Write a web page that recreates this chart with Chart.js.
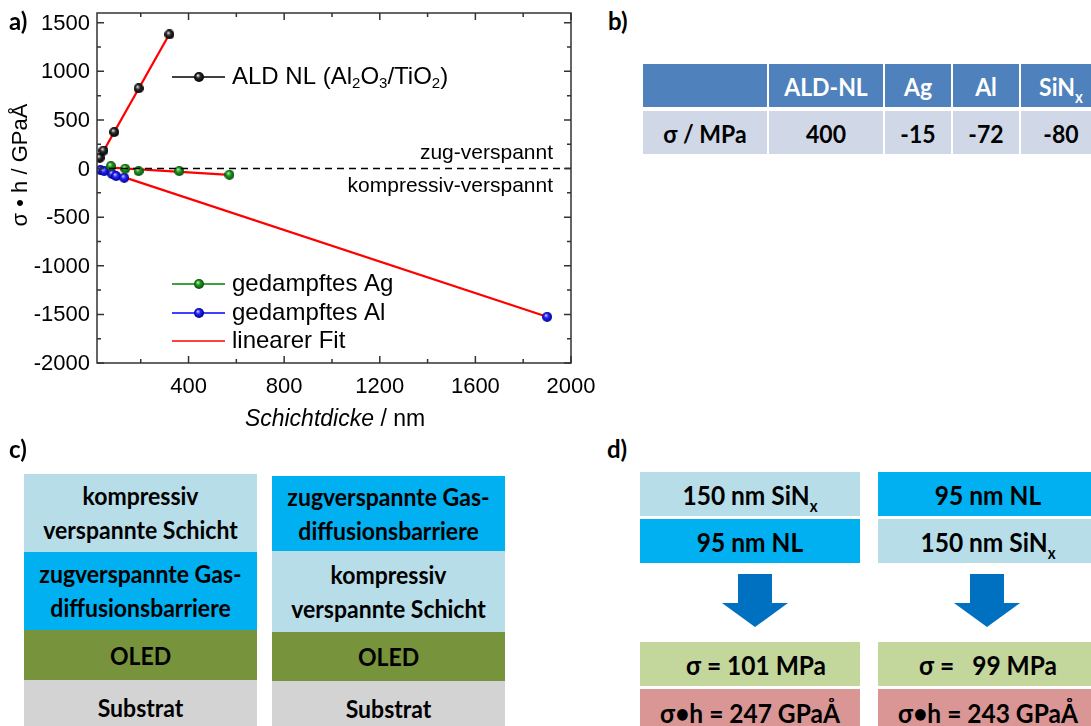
<!DOCTYPE html>
<html>
<head>
<meta charset="utf-8">
<script src="https://cdn.jsdelivr.net/npm/chart.js@4.4.1/dist/chart.umd.min.js"></script>
<style>
  body { margin: 0; width: 1091px; height: 726px; overflow: hidden; background: #fff; position: relative; }
  .lbl { position: absolute; font: 700 24px Lato, "Open Sans", sans-serif; color: #000; }
  .box { position: absolute; display: flex; align-items: center; justify-content: center; text-align: center;
         font: 700 23px/31px Lato, "Open Sans", sans-serif; color: #000; white-space: pre; }
  .box span, .cell span { display: inline-block; transform: scaleY(1.1); }
  .big { font-size: 24.5px; }
  sub { font-size: 15px; position: relative; top: 6px; vertical-align: baseline; line-height: 0; }
  .cell { position: absolute; display: flex; align-items: center; justify-content: center;
          font: 700 23px Lato, "Open Sans", sans-serif; white-space: pre; }
  .hd { background: #4F81BD; color: #fff; }
  .bd { background: #D0D8E8; color: #000; }
  #wrap { position: absolute; left: 0; top: 0; width: 600px; height: 430px; }
</style>
</head>
<body>
<div id="wrap"><canvas id="stress" width="600" height="430"></canvas></div>
<div class="lbl" style="left:9px;top:6px">a)</div>
<div class="lbl" style="left:608px;top:6px">b)</div>
<div class="lbl" style="left:9px;top:434px">c)</div>
<div class="lbl" style="left:607px;top:434px">d)</div>
<div id="table"></div>
<div id="stacks"></div>
<div id="calc"></div>

<script>
// Schichtdicke (nm) und sigma*h (GPa*Angstrom)
const aldThickness = [28, 44, 89, 191, 320];
const aldStress = [110, 185, 375, 825, 1380];
const agThickness = [75, 135, 191, 361, 571];
const agStress = [26, -2, -26, -26, -64];
const alThickness = [31, 47, 81, 97, 131, 1900];
const alStress = [-15, -26, -57, -77, -95, -1525];

// lineare Fits (Endpunkte)
const aldFitX = [27, 320];
const aldFitY = [105, 1384];
const agFitX = [75, 571];
const agFitY = [10, -66];
const alFitX = [31, 1900];
const alFitY = [-8, -1525];

// Achsen
const xRange = [17, 2000];
const yRange = [-2000, 1600];
const xLabels = [400, 800, 1200, 1600, 2000];
const xMinor = [200, 600, 1000, 1400, 1800];
const yLabels = [-2000, -1500, -1000, -500, 0, 500, 1000, 1500];
const yMinor = [-1750, -1250, -750, -250, 250, 750, 1250];

// Tabelle b)
const tableHead = ["", "ALD-NL", "Ag", "Al", "SiN<sub>x</sub>"];
const tableRow = ["σ / MPa", "400", "-15", "-72", "-80"];

const FONT = "'Liberation Sans', Arial, sans-serif";

function pairs(xs, ys) {
  return xs.map((x, i) => ({ x, y: ys[i] }));
}

function sphere(light, base, dark) {
  const r = 5;
  const c = document.createElement("canvas");
  c.width = c.height = 2 * r;
  const ctx = c.getContext("2d");
  const g = ctx.createRadialGradient(r * 0.75, r * 0.65, 0.3, r, r, r);
  g.addColorStop(0, light);
  g.addColorStop(0.4, base);
  g.addColorStop(1, dark);
  ctx.fillStyle = g;
  ctx.beginPath();
  ctx.arc(r, r, r, 0, Math.PI * 2);
  ctx.fill();
  return c;
}

const ballBlack = sphere("#e8e8e8", "#2a2a2a", "#000");
const ballGreen = sphere("#b8f0b8", "#1f9a1f", "#0a4a0a");
const ballBlue = sphere("#c8c8ff", "#2424ff", "#00008a");

// Messpunkte: die Verbindungslinie liegt unter dem Fit, daher nur Kugeln
function series(xs, ys, ball) {
  return {
    data: pairs(xs, ys),
    showLine: false,
    pointStyle: ball,
    pointRadius: 5,
  };
}

function fit(xs, ys) {
  return {
    data: pairs(xs, ys),
    showLine: true,
    borderColor: "#ff0000",
    borderWidth: 2.2,
    pointRadius: 0,
  };
}

function drawParts(ctx, x, y, parts) {
  parts.forEach(([text, sub]) => {
    ctx.font = sub ? "15px " + FONT : "24px " + FONT;
    ctx.fillText(text, x, sub ? y + 7 : y);
    x += ctx.measureText(text).width;
  });
}

function legendRow(ctx, y, color, ball, parts) {
  ctx.strokeStyle = color;
  ctx.lineWidth = 1.5;
  ctx.beginPath();
  ctx.moveTo(172, y);
  ctx.lineTo(225, y);
  ctx.stroke();
  if (ball) ctx.drawImage(ball, 199 - 5, y - 5);
  ctx.fillStyle = "#000";
  ctx.textBaseline = "middle";
  ctx.textAlign = "left";
  drawParts(ctx, 232, y, parts);
}

const framePlugin = {
  id: "frame",
  afterDraw(chart) {
    const { ctx, chartArea: a, scales } = chart;
    const sx = scales.x, sy = scales.y;
    ctx.save();
    ctx.strokeStyle = "#333";
    ctx.lineWidth = 1.5;
    ctx.strokeRect(a.left, a.top, a.right - a.left, a.bottom - a.top);

    // nach innen zeigende Ticks auf allen vier Seiten
    ctx.beginPath();
    const xt = (v, len) => {
      const px = sx.getPixelForValue(v);
      ctx.moveTo(px, a.bottom); ctx.lineTo(px, a.bottom - len);
      ctx.moveTo(px, a.top); ctx.lineTo(px, a.top + len);
    };
    const yt = (v, len) => {
      const py = sy.getPixelForValue(v);
      ctx.moveTo(a.left, py); ctx.lineTo(a.left + len, py);
      ctx.moveTo(a.right, py); ctx.lineTo(a.right - len, py);
    };
    xLabels.forEach((v) => xt(v, 7));
    xMinor.forEach((v) => xt(v, 4));
    yLabels.forEach((v) => yt(v, 7));
    yMinor.forEach((v) => yt(v, 4));
    ctx.stroke();

    // Tick-Beschriftung
    ctx.fillStyle = "#000";
    ctx.font = "22px " + FONT;
    ctx.textBaseline = "middle";
    ctx.textAlign = "center";
    xLabels.forEach((v) => ctx.fillText(String(v), sx.getPixelForValue(v), a.bottom + 24));
    ctx.textAlign = "right";
    yLabels.forEach((v) => ctx.fillText(String(v), a.left - 7, sy.getPixelForValue(v) + 1));

    // Achsentitel
    ctx.textAlign = "center";
    ctx.save();
    ctx.translate(21, 165);
    ctx.rotate(-Math.PI / 2);
    ctx.font = "22px " + FONT;
    ctx.fillText("σ • h / GPaÅ", 0, 0);
    ctx.restore();

    ctx.font = "italic 23px " + FONT;
    const w1 = ctx.measureText("Schichtdicke").width;
    ctx.font = "23px " + FONT;
    const w2 = ctx.measureText(" / nm").width;
    const x0 = 335 - (w1 + w2) / 2;
    ctx.textAlign = "left";
    ctx.font = "italic 23px " + FONT;
    ctx.fillText("Schichtdicke", x0, 420);
    ctx.font = "23px " + FONT;
    ctx.fillText(" / nm", x0 + w1, 420);

    // Beschriftung der Nulllinie
    ctx.font = "21px " + FONT;
    ctx.textAlign = "right";
    ctx.fillText("zug-verspannt", 553, 153);
    ctx.fillText("kompressiv-verspannt", 553, 186);

    // Legenden
    legendRow(ctx, 77, "#000", ballBlack, [["ALD NL (Al", 0], ["2", 1], ["O", 0], ["3", 1], ["/TiO", 0], ["2", 1], [")", 0]]);
    legendRow(ctx, 284, "#008000", ballGreen, [["gedampftes Ag", 0]]);
    legendRow(ctx, 313, "#0000ff", ballBlue, [["gedampftes Al", 0]]);
    legendRow(ctx, 341, "#ff0000", null, [["linearer Fit", 0]]);
    ctx.restore();
  },
};

new Chart(document.getElementById("stress"), {
  type: "scatter",
  data: {
    datasets: [
      {
        data: pairs(xRange, [0, 0]),
        showLine: true,
        borderColor: "#000",
        borderWidth: 1.5,
        borderDash: [7, 5],
        pointRadius: 0,
      },
      series(aldThickness, aldStress, ballBlack),
      series(agThickness, agStress, ballGreen),
      series(alThickness, alStress, ballBlue),
      fit(aldFitX, aldFitY),
      fit(agFitX, agFitY),
      fit(alFitX, alFitY),
    ],
  },
  options: {
    responsive: false,
    animation: false,
    layout: { padding: { top: 13, right: 29, left: 97, bottom: 67 } },
    plugins: { legend: { display: false }, tooltip: { enabled: false } },
    scales: {
      x: { type: "linear", display: false, min: xRange[0], max: xRange[1] },
      y: { type: "linear", display: false, min: yRange[0], max: yRange[1] },
    },
  },
  plugins: [framePlugin],
});

// b) Tabelle
const cols = [[643, 124], [769, 114], [885, 66], [953, 66], [1021, 80]];
let html = "";
cols.forEach(([left, w], i) => {
  html += `<div class="cell hd" style="left:${left}px;top:64px;width:${w}px;height:43px"><span>${tableHead[i]}</span></div>`;
  html += `<div class="cell bd" style="left:${left}px;top:111px;width:${w}px;height:43px"><span>${tableRow[i]}</span></div>`;
});
document.getElementById("table").innerHTML = html;

// c) Schichtstapel
const LIGHT = "#B7DDE8", BLUE = "#00B0F0", OLIVE = "#77933C", GREY = "#D3D3D3";
const stackLeft = [
  [474, 78, LIGHT, "kompressiv\nverspannte Schicht"],
  [552, 78, BLUE, "zugverspannte Gas-\ndiffusionsbarriere"],
  [630, 50, OLIVE, "OLED"],
  [680, 54, GREY, "Substrat"],
];
const stackRight = [
  [476, 75, BLUE, "zugverspannte Gas-\ndiffusionsbarriere"],
  [551, 81, LIGHT, "kompressiv\nverspannte Schicht"],
  [632, 49, OLIVE, "OLED"],
  [681, 54, GREY, "Substrat"],
];
function stack(left, layers) {
  return layers.map(([top, h, bg, text]) =>
    `<div class="box" style="left:${left}px;top:${top}px;width:233px;height:${h}px;background:${bg}"><span>${text}</span></div>`
  ).join("");
}
document.getElementById("stacks").innerHTML = stack(24, stackLeft) + stack(272, stackRight);

// d) Kombination NL + SiNx
const GREEN = "#C3D69B", ROSE = "#D99694";
function box(left, top, h, bg, text) {
  return `<div class="box big" style="left:${left}px;top:${top}px;width:220px;height:${h}px;background:${bg}"><span>${text}</span></div>`;
}
function arrow(cx) {
  return `<svg style="position:absolute;left:${cx - 33}px;top:574px" width="66" height="54">
     <polygon points="16,0 50,0 50,29 66,29 33,53 0,29 16,29" fill="#0070C0"/></svg>`;
}
document.getElementById("calc").innerHTML =
  box(640, 472, 44, LIGHT, "150 nm SiN<sub>x</sub>") +
  box(640, 519, 44, BLUE, "95 nm NL") +
  arrow(755) +
  box(640, 642, 44, GREEN, "  σ = 101 MPa") +
  box(640, 689, 46, ROSE, "σ•h = 247 GPaÅ") +
  box(878, 472, 44, BLUE, "95 nm NL") +
  box(878, 519, 44, LIGHT, "150 nm SiN<sub>x</sub>") +
  arrow(987) +
  box(878, 642, 44, GREEN, "σ =   99 MPa") +
  box(878, 689, 46, ROSE, "σ•h = 243 GPaÅ");
</script>
</body>
</html>
